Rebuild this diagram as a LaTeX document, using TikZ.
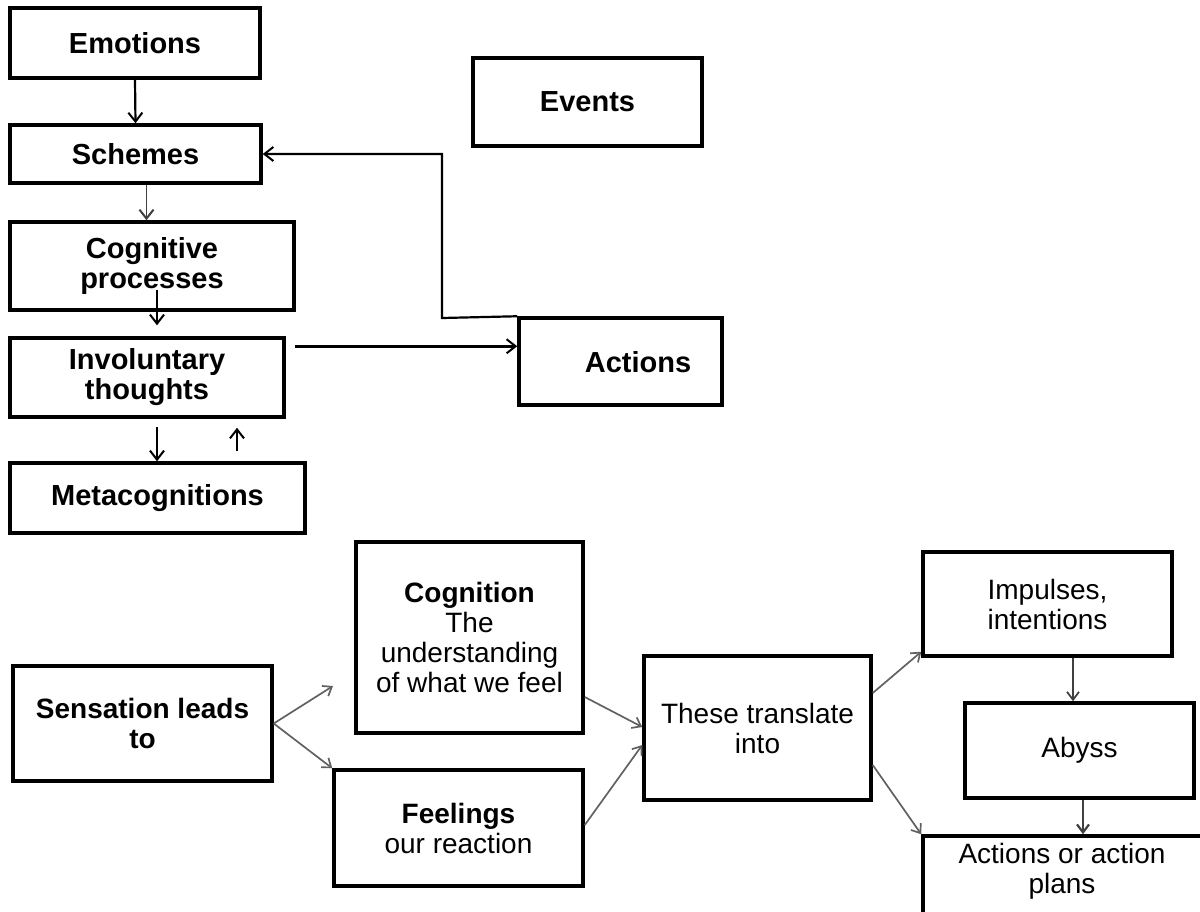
\documentclass[tikz,border=0pt]{standalone}
\usepackage{fontspec}
\setmainfont{Liberation Sans}
\usetikzlibrary{arrows.meta,calc}
\begin{document}
\begin{tikzpicture}[x=1pt,y=-1pt,
  box/.style={draw=black, line width=3.5pt, rectangle, inner sep=0pt, align=center, font=\fontsize{29}{30}\selectfont\bfseries},
  lbox/.style={draw=black, line width=3.5pt, rectangle, inner sep=0pt, align=center, font=\fontsize{28}{30}\selectfont},
  plain/.style={inner sep=0pt, align=center},
  arr/.style={line width=2.2pt, -{Straight Barb[length=9pt,width=14pt,line width=2pt]}},
  garr/.style={draw=black!62, line width=1.7pt, -{Straight Barb[length=8pt,width=12pt]}}
]
\useasboundingbox (0,0) rectangle (1200,911);
\clip (0,0) rectangle (1200,911);

% top part
\node[box, minimum width=250pt, minimum height=70pt] (emo) at (135,43) {Emotions};
\node[box, minimum width=251pt, minimum height=58pt] (sch) at (135.5,154) {Schemes};
\node[box, minimum width=284pt, minimum height=88pt] (cog) at (152,266) {Cognitive\\processes};
\node[box, minimum width=274pt, minimum height=79pt] (inv) at (147,377.5) {Involuntary\\thoughts};
\node[box, minimum width=295pt, minimum height=70pt] (meta) at (157.5,498) {Metacognitions};
\node[box, minimum width=229pt, minimum height=88pt] (evt) at (587.5,102) {Events};
\node[box, minimum width=203pt, minimum height=87pt] (act) at (620.5,361.5) {};
\node[plain, font=\fontsize{29}{30}\selectfont\bfseries] (actt) at (638,362) {Actions};

\coordinate (fb) at (442,318);
\coordinate (a1) at ($(sch.south)+(11,0)$);
\coordinate (a2s) at ($(cog.south)+(5,-22)$);
\coordinate (a2e) at ($(inv.north)+(10,-11)$);
\coordinate (a3) at ($(inv.north east)+(9,10)$);
\coordinate (a4) at ($(inv.south)+(10,8)$);
\coordinate (a5s) at ($(meta.north)+(79.5,-10)$);
\coordinate (a5e) at ($(inv.south)+(90,9)$);

\draw[arr] (emo.south) -- (sch.north);
\draw[arr, draw=black!75, line width=1.6pt] (a1) -- (a1 |- cog.north);
\draw[arr] (a2s) -- (a2e);
\draw[arr, line width=3pt] (a3) -- (a3 -| act.west);
\draw[arr] (a4) -- (a4 |- meta.north);
\draw[arr] (a5s) -- (a5e);
\draw[arr] (act.north west) -- (fb) |- (sch.east);

% bottom part
\node[box, font=\fontsize{28}{30}\selectfont\bfseries, minimum width=259pt, minimum height=115pt] (sen) at (142.5,723.5) {Sensation leads\\to};
\node[lbox, minimum width=227pt, minimum height=191pt] (cgn) at (469.5,637.5) {\textbf{Cognition}\\The\\understanding\\of what we feel};
\node[lbox, minimum width=249pt, minimum height=116pt] (fel) at (458.5,828) {\textbf{Feelings}\\our reaction};
\node[lbox, minimum width=227pt, minimum height=144pt] (the) at (757.5,728) {These translate\\into};
\node[lbox, minimum width=249pt, minimum height=104pt] (imp) at (1047.5,604) {Impulses,\\intentions};
\node[lbox, minimum width=229pt, minimum height=95pt] (aby) at (1079.5,750.5) {Abyss};
\node[lbox, minimum width=280pt, minimum height=134pt] (apl) at (1063,903) {};
\node[plain, font=\fontsize{28}{30}\selectfont] (aplt) at (1062,871.5) {Actions or action\\plans};

\coordinate (sc) at (333,686);
\coordinate (b1) at ($(imp.south)+(25.5,0)$);
\coordinate (b2) at ($(aby.south)+(3.5,0)$);
\draw[garr] (sen.east) -- (sc);
\draw[garr] (sen.east) -- (fel.north west);
\draw[garr] ($(cgn.east)+(0,59.5)$) -- ($(the.west)+(0,-1)$);
\draw[garr] ($(fel.east)+(0,-3)$) -- ($(the.west)+(0,17)$);
\draw[garr] ($(the.east)+(0,-35)$) -- ($(imp.south west)+(0,-6)$);
\draw[garr] ($(the.east)+(0,37)$) -- (apl.north west);
\draw[garr, draw=black!75] (b1) -- (b1 |- aby.north);
\draw[garr, draw=black!75, line width=2.2pt] (b2) -- (b2 |- apl.north);
\end{tikzpicture}
\end{document}
